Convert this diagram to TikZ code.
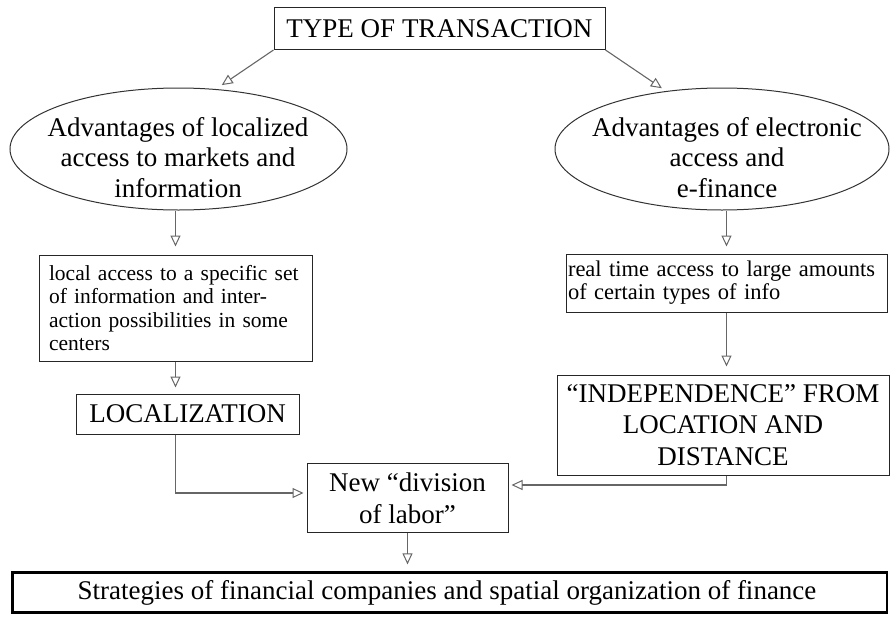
\documentclass[tikz,border=0pt]{standalone}
\usepackage{fontspec}
\setmainfont{Liberation Serif}
\usetikzlibrary{arrows.meta,shapes.geometric,calc}

\begin{document}
\begin{tikzpicture}[x=1pt,y=-1pt,
  box/.style={draw=black!85, line width=1pt, inner sep=0pt, align=center},
  big/.style={font=\fontsize{27}{31}\selectfont},
  oval/.style={ellipse, draw=black!80, line width=1pt, inner sep=0pt},
  conn/.style={draw=black!60, line width=1.1pt, -{Triangle[open,length=11pt,width=10pt,line width=1pt]}},
]
\useasboundingbox (0,0) rectangle (891,616);

% top box
\node[box,big,minimum width=331,minimum height=42] (type) at (439.5,28.5) {TYPE OF TRANSACTION};

% the two advantage ellipses and their texts
\node[oval,minimum width=337,minimum height=122] (lell) at (178.5,149) {};
\node[align=center,inner sep=0pt,font=\fontsize{27}{30.5}\selectfont] (ltxt) at (178,157.5) {Advantages of localized\\access to markets and\\information};
\node[oval,minimum width=334,minimum height=122] (rell) at (722,149) {};
\node[align=center,inner sep=0pt,font=\fontsize{27}{30.5}\selectfont] (rtxt) at (727,157.5) {Advantages of electronic\\access and\\e-finance};

% detail boxes
\node[box,align=left,text width=253,inner xsep=10pt,minimum height=106,font=\fontsize{21.5}{23.5}\selectfont] (lbox) at (175.5,308)
  {local access to a specific set\\of information and inter-\\action possibilities in some\\centers};
\node[box,align=left,text width=317,inner xsep=2pt,minimum height=58,font=\fontsize{22.5}{23}\selectfont] (rbox) at (726.5,283)
  {real time access to large amounts\\of certain types of info};

% outcome boxes
\node[box,big,minimum width=223,minimum height=40] (loc) at (187.5,414) {LOCALIZATION};
\node[box,minimum width=332,minimum height=100,font=\fontsize{27}{31.5}\selectfont] (ind) at (723,425)
  {“INDEPENDENCE” FROM\\LOCATION AND\\DISTANCE};
\node[box,minimum width=201,minimum height=69,font=\fontsize{27}{32}\selectfont] (new) at (407.5,498)
  {New “division\\of labor”};

% final box with heavy frame
\node[draw=black,line width=1.2pt,minimum width=874,minimum height=39,inner sep=0pt,big] (strat) at (450,592.5)
  {Strategies of financial companies and spatial organization of finance\hspace*{6pt}};
\draw[line width=3.5pt] (strat.north east) -- (strat.north west) -- (strat.south west) -- (strat.south east);

% connectors
\draw[conn,shorten >=7pt] (type.south west) -- (lell.58);
\draw[conn,shorten >=5pt] (type.south east) -- (rell.134);
\draw[conn,shorten >=8pt] (lell.south -| lbox.north) -- (lbox.north);
\draw[conn,shorten >=7pt] (rell.south -| rbox.north) -- (rbox.north);
\draw[conn,shorten >=6pt] (lbox.south) -- (lbox.south |- loc.north);
\draw[conn,shorten >=8pt] (rbox.south) -- (rbox.south |- ind.north);
\draw[conn,shorten >=3pt] (loc.south -| lbox.south) |- ([yshift=5pt]new.west);
\draw[conn,shorten >=3pt] (ind.south -| rbox.south) |- ([yshift=13pt]new.east);
\draw[conn,shorten >=8pt] (new.south) -- (new.south |- strat.north);
\end{tikzpicture}
\end{document}
